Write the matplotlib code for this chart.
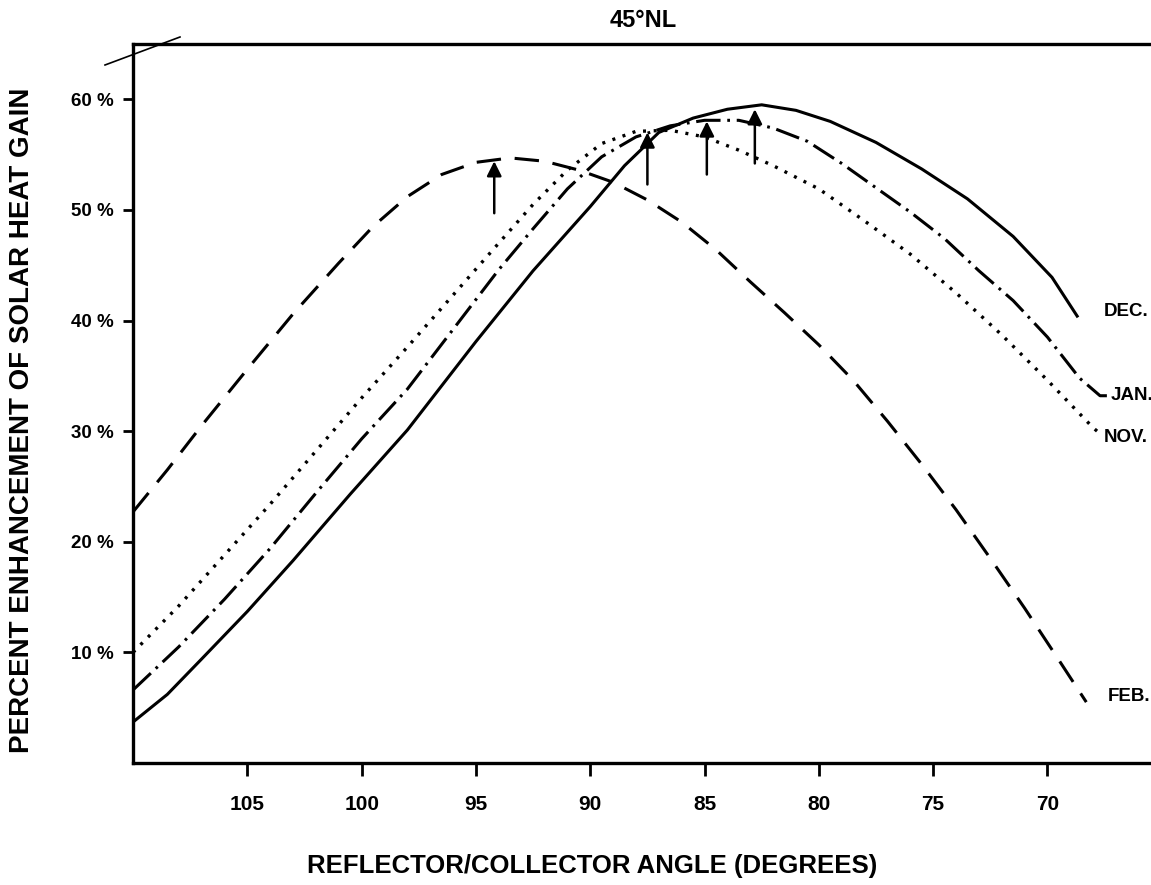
import matplotlib
matplotlib.use('Agg')
import matplotlib.pyplot as plt
from matplotlib.lines import Line2D

# angle (degrees) and percent enhancement
dec_x = [110.0, 108.5, 107.0, 105.0, 103.0, 100.5, 98.0, 96.5, 95.0, 92.5, 90.0, 88.5, 87.0,
         85.5, 84.0, 82.5, 81.0, 79.5, 77.5, 75.5, 73.5, 71.5, 69.8, 68.7]
dec_y = [3.7, 6.2, 9.4, 13.7, 18.3, 24.3, 30.1, 34.1, 38.1, 44.5, 50.3, 54.0, 57.0,
         58.3, 59.1, 59.5, 59.0, 58.0, 56.1, 53.7, 51.0, 47.6, 43.9, 40.4]

jan_x = [110.0, 108.0, 106.0, 104.0, 102.0, 100.0, 98.0, 96.0, 94.0, 92.5, 91.0, 89.5,
         88.0, 86.5, 85.0, 83.5, 82.0, 80.5, 79.0, 77.5, 76.0, 74.5, 73.0, 71.5,
         70.0, 68.6, 67.7, 67.4]
jan_y = [6.6, 10.5, 14.8, 19.4, 24.4, 29.3, 33.8, 39.2, 44.6, 48.3, 51.9, 54.8,
         56.6, 57.6, 58.1, 58.1, 57.4, 56.2, 54.2, 52.0, 49.8, 47.4, 44.5, 41.8,
         38.5, 34.8, 33.2, 33.2]

nov_x = [110.0, 108.0, 106.0, 104.0, 102.0, 100.0, 98.0, 96.0, 94.0, 92.5, 91.0, 89.5,
         88.0, 86.5, 85.0, 83.5, 82.0, 80.0, 78.0, 76.0, 74.0, 72.0, 70.0, 68.0, 67.6]
nov_y = [10.0, 14.2, 18.8, 23.4, 28.2, 33.0, 37.6, 42.3, 47.0, 50.5, 53.6, 56.0,
         57.1, 57.2, 56.6, 55.4, 54.0, 51.9, 49.0, 46.0, 42.5, 38.7, 34.6, 30.3, 29.6]

feb_x = [110.0, 108.5, 107.0, 105.0, 103.0, 101.0, 99.5, 98.0, 96.5, 95.0, 93.5, 92.0,
         90.5, 89.0, 87.5, 86.0, 84.5, 83.0, 81.5, 80.0, 78.5, 77.0, 75.5, 74.0,
         72.5, 71.0, 69.5, 68.3]
feb_y = [22.7, 26.5, 30.5, 35.6, 40.6, 45.2, 48.5, 51.2, 53.2, 54.3, 54.7, 54.4,
         53.6, 52.5, 50.9, 48.9, 46.4, 43.5, 40.7, 37.8, 34.6, 30.9, 27.0, 22.9,
         18.5, 14.0, 9.3, 5.5]

# optimum-angle arrows
arrow_x = [94.2, 87.5, 84.9, 82.8]
arrow_tip = [54.4, 57.0, 58.0, 59.1]
arrow_tail = [49.7, 52.3, 53.2, 54.2]

month_labels = ['DEC.', 'JAN.', 'NOV.', 'FEB.']
label_x = [67.55, 67.25, 67.55, 67.35]
label_y = [40.8, 33.2, 29.4, 6.0]

x_ticks = [105, 100, 95, 90, 85, 80, 75, 70]
y_ticks = [10, 20, 30, 40, 50, 60]
y_ticklabels = ['10 %', '20 %', '30 %', '40 %', '50 %', '60 %']

fam = ['Liberation Sans', 'DejaVu Sans']

fig = plt.figure(figsize=(11.51, 8.85), dpi=100)
ax = fig.add_axes([0.1156, 0.1379, 0.8844, 0.8124])

lw = 2.2
ax.plot(dec_x, dec_y, color='black', lw=lw, linestyle='-')
ax.plot(jan_x, jan_y, color='black', lw=lw, linestyle=(0, (8, 2.2, 0.9, 2.2)))
ax.plot(nov_x, nov_y, color='black', lw=2.4, linestyle=(0, (0.9, 2.3)))
ax.plot(feb_x, feb_y, color='black', lw=lw, linestyle=(0, (8, 4.5)))

for x, tip, tail in zip(arrow_x, arrow_tip, arrow_tail):
    ax.annotate('', xy=(x, tip), xytext=(x, tail),
                arrowprops=dict(arrowstyle='-|>', color='black', lw=1.8,
                                mutation_scale=22, shrinkA=0, shrinkB=0))

for t, x, y in zip(month_labels, label_x, label_y):
    ax.text(x, y, t, ha='left', va='center', fontsize=13.5, fontweight='bold',
            family=fam, clip_on=False)

ax.set_xlim(110, 65.47)
ax.set_ylim(0, 65)
ax.set_xticks(x_ticks)
ax.set_xticklabels([str(v) for v in x_ticks], fontsize=15, fontweight='bold', family=fam)
ax.set_yticks(y_ticks)
ax.set_yticklabels(y_ticklabels, fontsize=13.5, fontweight='bold', family=fam)
ax.tick_params(axis='x', direction='out', length=9, width=2, pad=14)
ax.tick_params(axis='y', direction='out', length=7, width=2, pad=7)

ax.spines['right'].set_visible(False)
for s in ['left', 'bottom', 'top']:
    ax.spines[s].set_linewidth(2.4)

ax.set_xlabel('REFLECTOR/COLLECTOR ANGLE (DEGREES)', fontsize=18.5, fontweight='bold',
              family=fam, va='center')
ax.xaxis.set_label_coords(0.451, -0.143)
ax.set_ylabel('PERCENT ENHANCEMENT OF SOLAR HEAT GAIN', fontsize=20, fontweight='bold',
              family=fam, va='center')
ax.yaxis.set_label_coords(-0.109, 0.476)

fig.text(0.559, 0.977, '45°NL', ha='center', va='center', fontsize=17,
         fontweight='bold', family=fam)

# stray corner stroke from the original drawing
fig.add_artist(Line2D([105 / 1151, 180 / 1151], [1 - 65 / 885, 1 - 37 / 885],
                      color='black', lw=1.2))

fig.savefig('out.png', dpi=100)
